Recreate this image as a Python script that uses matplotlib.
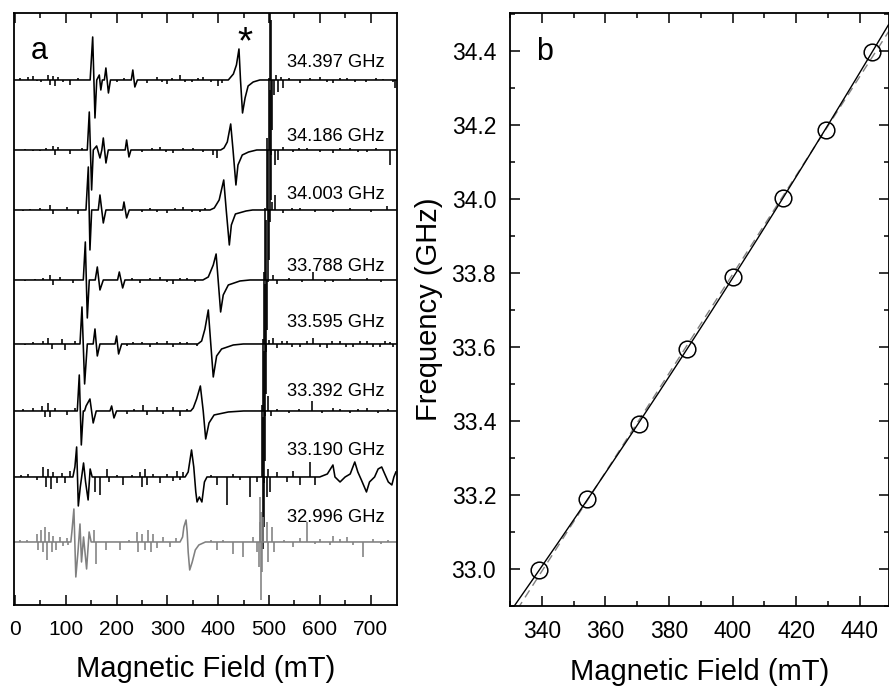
import numpy as np
import matplotlib
matplotlib.use("Agg")
import matplotlib.pyplot as plt
from matplotlib.ticker import MultipleLocator, FormatStrFormatter

plt.rcParams['font.family'] = ['Liberation Sans', 'DejaVu Sans']

# ==============================
# data
# ==============================

# resonance (panel b)
freq_ghz = [32.996, 33.190, 33.392, 33.595, 33.788, 34.003, 34.186, 34.397]
res_field = [339.2, 354.3, 370.6, 385.5, 400.0, 415.9, 429.3, 443.7]

# spectra (panel a), top to bottom, signal in arb. units
trace_labels = ["34.397 GHz", "34.186 GHz", "34.003 GHz", "33.788 GHz",
                "33.595 GHz", "33.392 GHz", "33.190 GHz", "32.996 GHz"]
trace_offsets = [525, 455, 395, 325, 261, 194, 128, 63]

# broad line shapes: (field mT, signal)
t1_shape = [(0, 0), (148, 0), (153, 43), (157.5, -38), (161, 0), (166, 5), (169, -10), (172, 0),
            (176, 0), (179, 12), (184, -13), (188, 0), (229, 0), (232, 10), (236, -7), (241, 0),
            (420, 0), (430, 6), (436, 15), (441, 31), (444, 0), (448, -33), (453, -18), (459, -6),
            (469, -2), (482, 0), (750, 0)]
t2_shape = [(0, 0), (142.4, 0), (146.3, 38), (150.9, -40), (154.2, 0), (160.8, 4), (167.3, -8),
            (171, 0), (173.9, 12), (179.1, -13), (183.7, 0), (217, 0), (219.8, 10), (224.4, -7),
            (228.3, 0), (405, 0), (411.5, 2), (418, 8), (424.7, 26), (429.3, 0), (435, -35),
            (439, -15), (447.5, -5), (460, -2), (476, 0), (750, 0)]
t3_shape = [(0, 0), (139.8, 0), (144.4, 43), (147.6, -40), (151, 0), (164, 0), (167.3, 15),
            (173.9, -13), (179.1, 0), (212, 0), (214.6, 8), (219.8, -8), (225, 0), (384, 0),
            (392.4, 2), (402, 10), (411, 30), (415.9, 0), (422, -35), (426, -15), (434, -4),
            (455, -1), (468, 0), (750, 0)]
t4_shape = [(0, 0), (134.5, 0), (138.5, 38), (142.4, -38), (146.3, 0), (158, 0), (162.1, 13),
            (167.3, -10), (173.9, 0), (202, 0), (205.4, 8), (212, -8), (216.5, 0), (370, 0),
            (380.6, 3), (390.4, 15), (396, 26), (400, 0), (404.9, -32), (410, -15), (420, -5),
            (443, -1), (462.6, 0), (750, 0)]
t5_shape = [(0, 0), (128, 0), (131.9, 37), (137.1, -40), (142.4, 0), (154, 0), (157.5, 15),
            (162.1, -12), (167.3, 0), (197, 0), (200.1, 8), (204, -10), (210, 0), (360, 0),
            (367.5, 3), (374, 15), (380.6, 34), (385.5, 0), (390.4, -33), (397, -12),
            (406.8, -5), (429.8, -1), (449.5, 0), (750, 0)]
t6_shape = [(0, 0), (122.7, 0), (126.6, 36), (130.6, -34), (134.5, 0), (137, 0), (140, 5),
            (147.6, 12), (154, -12), (160, 0), (187, 0), (190.3, 5), (194.9, -7), (200, 0),
            (346, 0), (351, 3), (357.6, 12), (365, 25), (370.6, 0), (375.5, -28), (382, -12),
            (392, -4), (420, -1), (450, 0), (750, 0)]
t7_shape = [(0, 0), (114, 0), (118, 10), (121.4, 30), (124.7, -29), (128.6, -10), (135, 14),
            (139, -5), (144, -23), (148, 8), (152, 0), (335, 0), (341, 5), (347.6, 27),
            (352, 10), (356, -15), (358.5, -25), (363, -20), (368, -25), (373, -5), (378, 0),
            (600, 0), (615, 3), (626, 12), (630, 0), (640, -5), (650, 0), (660, 3), (669, 15),
            (675, 5), (682, -3), (692, -15), (698, -5), (708, 0), (715, 8), (722, 10), (728, 3),
            (735, -5), (742, -8), (746, 0), (750, 5)]
t8_shape = [(0, 0), (110, 0), (112, 10), (116, 33), (119.8, -35), (124, -10), (128, 18),
            (131, -20), (135, 5), (141, -27), (146, 10), (150, 0), (325, 0), (330, 5),
            (332.5, 15), (336.8, 22), (339, 10), (341, -10), (344, -28), (349, -20), (355, -8),
            (362, -3), (375, 0), (750, 0)]

# narrow spikes: (field mT, amplitude)
t1_spikes = [(10, 1.5), (26, 3), (36, 4), (44, -1.5), (52, -2), (66, 5), (69, -5), (75, 4),
             (79, -6), (85, 3), (95, -2), (108, -5), (125, 2), (200, -2), (215, 2), (259, -3),
             (279, 3), (290, -2), (299, -4), (310, 2), (325, 5), (335, -2), (348, -2), (360, 2),
             (371, 3), (385, -2), (400, -6), (407, -3), (503, 75), (504, -75), (505, 60),
             (505.8, -50), (510, -15), (514, 5), (518, -12), (523, 3), (528, -8), (540, 2),
             (561, -3), (580, 2), (600, 3), (615, -2), (627, -3), (640, 2), (653, 2), (670, -2),
             (692, -2), (710, 2), (725, 1), (745, -2), (748, -8)]
t2_spikes = [(20, 1), (35, -1.5), (50, -1), (62, 2), (75.5, 4), (78.7, -5), (85.3, 3),
             (108, -4), (131, 2), (250, -2), (270, 2), (285.4, 3), (298, -2), (311.7, -3),
             (330, 2), (351, 2), (370, -2), (390.4, -5), (397, -8), (501, 72), (502, -72),
             (503, 60), (503.8, -50), (511.8, -15), (518.4, -10), (528.2, 3), (548, -2),
             (560, 2), (574, 2), (600, -2), (626.6, -3), (640, 2), (659.4, 2), (675, -2),
             (692.3, -2), (710, 2), (738.2, -15)]
t3_spikes = [(15, -1.5), (30, 1), (50, 1.5), (68.9, 5), (74.1, -4), (101.7, 3), (124.7, -4),
             (250, -2), (265.7, 2), (280, -2), (298.6, -3), (315, 2), (331.4, 3), (348, -2),
             (364.2, -2), (375, 2), (497, 72), (498, -72), (499, 60), (499.8, -50),
             (505.2, 8), (511.8, 15), (528.2, -3), (545, 2), (561, 2), (590, -2), (626.6, -2),
             (660, 2), (700, -2), (731.6, 4)]
t4_spikes = [(20, -1.5), (40, 1), (55, 2), (68.9, 5), (75.5, -5), (88.6, 3), (114.8, -3),
             (230, 2), (246, -3), (265, 2), (285.4, 3), (300, -2), (311.7, -4), (325, 2),
             (337.9, 2), (355, -2), (493, 72), (494, -72), (495, 60), (495.8, -50),
             (508.5, 5), (515, -4), (540, 2), (565, -2), (587.3, 8), (610, -2), (626.6, -2),
             (660, 2), (692.3, 2), (720, -2)]
t5_spikes = [(20, -1.5), (36, 2), (55.8, 3), (65.6, 6), (72.2, -5), (91.9, 5), (98.4, -6),
             (118, 3), (220, -2), (233, 2), (250, 2), (265.7, -3), (280, 2), (298.6, 3),
             (311.7, -3), (325, 2), (337.9, 2), (357.6, -2), (491, 72), (492, -72), (493, 60),
             (493.8, -50), (500, 4), (508.5, 6), (515, -4), (525, 3), (534.8, 3), (545, -3),
             (561, -3), (575, 3), (587.3, 6), (600, -3), (613.5, -4), (625, 3), (639.8, 3),
             (652, -3), (666, -3), (680, 3), (692.3, 3), (705, -3), (718.5, -3), (728, 3),
             (738, 2), (745, -3)]
t6_spikes = [(15, 1.5), (36, 3), (52.5, 5), (59, -6), (65.6, 8), (68.9, -6), (78.7, 3),
             (101.7, -4), (118, 3), (219.8, -3), (235, 2), (252.6, 6), (259.2, -4), (278.9, 4),
             (292, -3), (311.7, 4), (324.8, -5), (337.9, 2), (489, 72), (490, -72), (491, 60),
             (491.8, -50), (498.7, 15), (503.3, -5), (515, 2), (540, -2), (560, 2), (584, 10),
             (605, -2), (626.6, 3), (640, 2), (659.4, -2), (675, 2), (692.3, 3), (715, -2),
             (735, 2)]
t7_spikes = [(12, 2), (26, 3), (42.7, -3), (55.8, 10), (61, -10), (65.6, 8), (70.2, -12),
             (75.5, 5), (82, -6), (91.9, 4), (98.4, -6), (108.3, 6), (157.5, -15),
             (167.3, -18), (180.4, 8), (185.7, -5), (200, 2), (213.3, -8), (230, 2), (246, 5),
             (249.3, -10), (256, 8), (259.2, -8), (272.3, 3), (285.4, -6), (298.6, 3),
             (311.7, -4), (318.2, 6), (324.8, -3), (331.4, 5), (385, 2), (397, -8),
             (416.7, -28), (429.8, 3), (443, -3), (462.6, -20), (475.7, -5), (487, 72),
             (488, -72), (489, 60), (489.8, -50), (495.4, -20), (498.7, 8), (502, -15),
             (515, 5), (534.8, -5), (548, 6), (561, -8), (580.7, 15), (590.6, -8)]
t8_spikes = [(10, 1.5), (23, 2), (42.7, 8), (45.9, -8), (50.5, 12), (54.5, -10), (59, 15),
             (62.3, -18), (67.6, 10), (72.2, -10), (75.5, 6), (80.7, -8), (88.6, 5),
             (95.1, -4), (101.7, 4), (105, -3), (155.5, 12), (159.4, -22), (179, -8),
             (206.7, -8), (225, 2), (239.5, 10), (242.8, -10), (249.3, 8), (256, -8),
             (262.5, 12), (267, -10), (272.3, 8), (279, -6), (292, 5), (305, -5), (318, 4),
             (385, 2), (397, -8), (410, 2), (429.8, -12), (449.5, -15), (469, 5), (475.7, -10),
             (480, -25), (482, 20), (483, 45), (484, -58), (485, 30), (486.5, -30), (488, 25),
             (495.4, 20), (498.7, -20), (505.2, 15), (509.8, -10), (530, 2), (548, -5),
             (561, 4), (574, 20), (590, -2), (600.4, 3), (620, -3), (626.6, 6), (640, 3),
             (652.8, 5), (666, -3), (685.7, -15), (705.4, 3), (720, -2), (735, 2)]

trace_shapes = [t1_shape, t2_shape, t3_shape, t4_shape, t5_shape, t6_shape, t7_shape, t8_shape]
trace_spikes = [t1_spikes, t2_spikes, t3_spikes, t4_spikes, t5_spikes, t6_spikes, t7_spikes, t8_spikes]
trace_colors = ["black"] * 7 + ["#808080"]
label_lift = [17, 13, 15, 13, 21, 19, 26, 24]

# ==============================
# figure
# ==============================

fig = plt.figure(figsize=(8.89, 6.87), dpi=100)
ax1 = fig.add_axes([0.0157, 0.1194, 0.4308, 0.8617])
ax2 = fig.add_axes([0.5737, 0.1179, 0.4258, 0.8632])

# ---- panel a ----
for shape, spikes, off, col, lab, lift in zip(trace_shapes, trace_spikes, trace_offsets,
                                              trace_colors, trace_labels, label_lift):
    sx = [p[0] for p in shape]
    sy = [off + p[1] for p in shape]
    ax1.plot(sx, sy, color=col, lw=1.15)
    kx = [p[0] for p in spikes]
    ky = [off + p[1] for p in spikes]
    ax1.vlines(kx, off, ky, color=col, lw=1.15)
    ax1.text(728, off + lift, lab, ha="right", va="center", fontsize=13.2)

ax1.text(453, 562, "*", ha="center", va="center", fontsize=28)
ax1.text(0.045, 0.935, "a", transform=ax1.transAxes, fontsize=22, va="center")

ax1.set_xlim(-2, 752)
ax1.set_ylim(0, 592)
ax1.set_yticks([])
ax1.xaxis.set_major_locator(MultipleLocator(100))
ax1.set_xticks(np.arange(50, 750, 100), minor=True)
ax1.tick_params(axis="x", which="both", direction="in", top=True, labelsize=15, pad=11)
ax1.tick_params(axis="x", which="major", length=7, width=1.1)
ax1.tick_params(axis="x", which="minor", length=3.5, width=1.1)
ax1.set_xlabel("Magnetic Field (mT)", fontsize=21, labelpad=11)

# ---- panel b ----
xfit = np.linspace(330, 449, 200)
quad = np.polyfit(res_field, freq_ghz, 2)
lin = np.polyfit(res_field, freq_ghz, 1)
ax2.plot(xfit, np.polyval(lin, xfit), color="#808080", lw=1.0, ls=(0, (6, 4)))
ax2.plot(xfit, np.polyval(quad, xfit), color="black", lw=1.0)
ax2.plot(res_field, freq_ghz, "o", mfc="none", mec="black", ms=12, mew=1.1)

ax2.text(0.07, 0.935, "b", transform=ax2.transAxes, fontsize=22, va="center")
ax2.set_xlim(330, 449)
ax2.set_ylim(32.9, 34.502)
ax2.xaxis.set_major_locator(MultipleLocator(20))
ax2.xaxis.set_minor_locator(MultipleLocator(10))
ax2.yaxis.set_major_locator(MultipleLocator(0.2))
ax2.yaxis.set_minor_locator(MultipleLocator(0.1))
ax2.yaxis.set_major_formatter(FormatStrFormatter("%.1f"))
ax2.tick_params(which="both", direction="in", top=True, right=True, labelsize=16.5, pad=10)
ax2.tick_params(which="major", length=7, width=1.1)
ax2.tick_params(which="minor", length=3.5, width=1.1)
ax2.set_xlabel("Magnetic Field (mT)", fontsize=21, labelpad=11)
ax2.set_ylabel("Frequency (GHz)", fontsize=21, labelpad=6)

for ax in (ax1, ax2):
    for s in ax.spines.values():
        s.set_linewidth(1.3)

plt.savefig("out.png", dpi=100)
